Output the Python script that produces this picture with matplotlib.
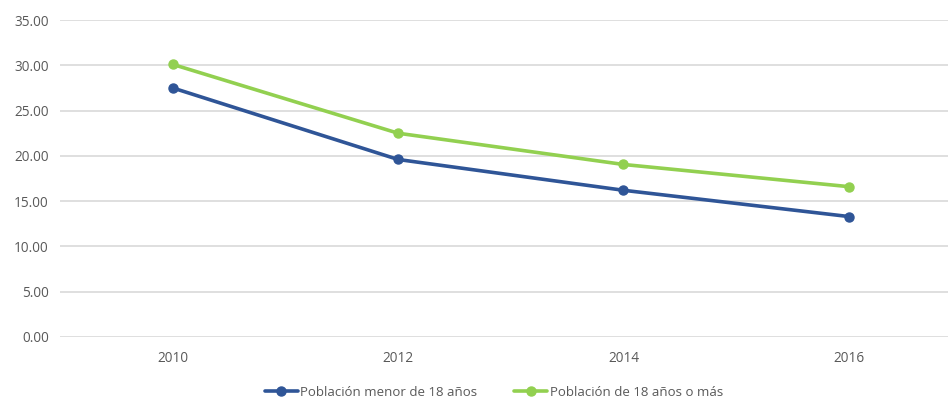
import matplotlib
matplotlib.use("Agg")
import matplotlib.pyplot as plt

years = ["2010", "2012", "2014", "2016"]
menor = [27.5, 19.6, 16.2, 13.3]
mayor = [30.1, 22.5, 19.05, 16.6]
yticks = [0, 5, 10, 15, 20, 25, 30, 35]

plt.rcParams['font.family'] = ['Open Sans', 'DejaVu Sans']

fig = plt.figure(figsize=(9.48, 3.99), dpi=100)
ax = fig.add_axes([60/948, 62/399, 1 - 60/948, (337-20)/399])

x = range(len(years))
ax.plot(x, menor, color='#2F5597', lw=2.6, marker='o', ms=6.5, label='Población menor de 18 años', solid_capstyle='round')
ax.plot(x, mayor, color='#92D050', lw=2.6, marker='o', ms=6.5, label='Población de 18 años o más', solid_capstyle='round')

ax.set_xlim(-0.5, 3.44)
ax.set_ylim(0, 35)
ax.set_yticks(yticks)
ax.set_yticklabels([f"{v:.2f}" for v in yticks])
ax.set_xticks(list(x))
ax.set_xticklabels(years)
ax.grid(axis='y', color='#D9D9D9', lw=1.2)
ax.set_axisbelow(True)
for s in ax.spines.values():
    s.set_visible(False)
ax.tick_params(length=0, labelsize=9.8, colors='#595959', pad=8)
ax.tick_params(axis='x', pad=10)

leg = fig.legend(loc='center', bbox_to_anchor=(494/948, 1 - 392/399), ncol=2, frameon=False,
                 fontsize=9.5, handlelength=2.5, columnspacing=2.8, handletextpad=0.2)
for t in leg.get_texts():
    t.set_color('#595959')

fig.savefig('out.png', dpi=100)
